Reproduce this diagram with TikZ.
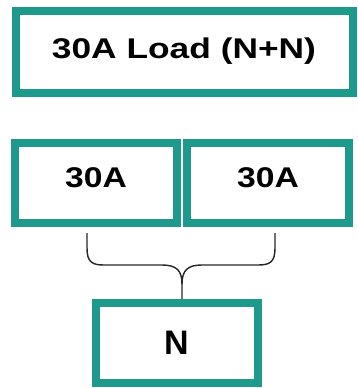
\documentclass[tikz,border=0pt]{standalone}
\usepackage{fontspec}
\setmainfont{Liberation Sans}
\newfontfamily\boxfont[FakeStretch=1.18]{Liberation Sans}
\newfontfamily\topfont[FakeStretch=1.24]{Liberation Sans}
\definecolor{teal1}{HTML}{1E9A8C}
\begin{document}
\begin{tikzpicture}[x=1pt,y=-1pt,
  tbox/.style={draw=teal1,line width=8pt,fill=white,rectangle,inner sep=0pt,
    minimum width=162pt,minimum height=80pt,font=\boxfont\bfseries\fontsize{28.5}{30}\selectfont},
  brace/.style={draw=black!85,line width=1.4pt}]
\useasboundingbox (0,0) rectangle (357,388);
\node[tbox,minimum width=337pt,minimum height=82pt,text height=20pt,text depth=8pt,
  font=\topfont\bfseries\fontsize{28.5}{30}\selectfont] (top) at (184,52) {30A Load (N+N)};
\node[tbox,text height=20pt,text depth=12pt] (left) at (96,183) {30A};
\node[tbox,text height=20pt,text depth=12pt] (right) at (268,183) {30A};
\node[tbox,text height=25pt,text depth=3pt,font=\bfseries\fontsize{34}{36}\selectfont] (n) at (176.5,343) {N};
\coordinate (la) at (87,233);
\coordinate (ra) at (275,233);
\draw[brace] (la) -- (87,248) .. controls (87,262) and (92,265) .. (104,265) -- (162,265)
  .. controls (176,265) and (182,270) .. (182,284) -- (n.north -| 182,0);
\draw[brace] (ra) -- (275,248) .. controls (275,262) and (270,265) .. (258,265) -- (202,265)
  .. controls (188,265) and (182,270) .. (182,284);
\end{tikzpicture}
\end{document}
